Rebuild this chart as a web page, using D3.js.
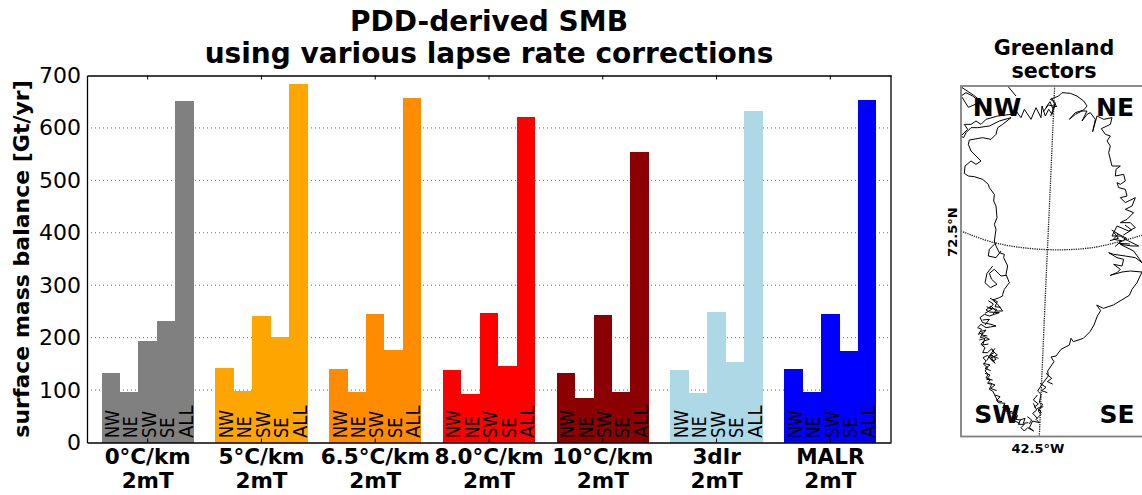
<!DOCTYPE html>
<html>
<head>
<meta charset="utf-8">
<script src="https://cdn.jsdelivr.net/npm/d3@7/dist/d3.min.js"></script>
<style>
  html, body { margin: 0; padding: 0; background: #fff; overflow: hidden; }
  svg text { font-family: "DejaVu Sans", sans-serif; fill: #000; }
</style>
</head>
<body>
<div id="chart"></div>
<script>
// lapse rate groups and the sectors inside each
const groups = ['0°C/km', '5°C/km', '6.5°C/km', '8.0°C/km', '10°C/km', '3dlr', 'MALR'];
const groupSub = '2mT';
const sectors = ['NW', 'NE', 'SW', 'SE', 'ALL'];
const groupColors = ['#808080', '#ffa500', '#ff8c00', '#ff0000', '#8b0000', '#add8e6', '#0000ff'];

const smb0 = [132, 97, 193, 232, 652];
const smb5 = [143, 99, 242, 201, 683];
const smb65 = [141, 96, 246, 176, 657];
const smb80 = [138, 92, 247, 145, 620];
const smb10 = [132, 84, 243, 96, 555];
const smb3dlr = [139, 94, 248, 154, 633];
const smbMalr = [141, 96, 245, 174, 654];
const smbAll = [smb0, smb5, smb65, smb80, smb10, smb3dlr, smbMalr];
const yTicks = [0, 100, 200, 300, 400, 500, 600, 700];

// coastline, in map units (3 units = 1 px)
const coastMain = [[253,1203],[243,1193],[253,1183],[235,1183],[241,1170],[228,1168],[233,1156],[213,1143],[205,1150],[210,1135],[188,1133],[195,1120],[175,1118],[168,1103],[158,1083],[148,1078],[155,1063],[143,1060],[151,1048],[138,1043],[145,1033],[135,1023],[143,1013],[131,1003],[138,993],[129,983],[143,976],[158,993],[168,988],[153,973],[163,968],[155,956],[143,968],[128,968],[135,953],[123,943],[131,933],[148,928],[133,920],[121,923],[128,908],[115,913],[125,898],[113,893],[123,883],[138,893],[168,888],[153,883],[128,878],[120,863],[133,853],[148,858],[178,848],[148,846],[138,840],[153,828],[168,843],[188,843],[173,823],[158,810],[178,803],[188,798],[188,793],[193,778],[208,758],[198,733],[203,708],[191,683],[193,673],[178,668],[168,648],[163,633],[168,598],[163,583],[171,563],[168,528],[161,513],[163,493],[148,473],[145,463],[128,448],[103,440],[85,438],[73,430],[75,408],[93,393],[108,403],[123,393],[108,378],[93,363],[85,343],[88,330],[128,323],[153,328],[168,313],[173,293],[188,283],[213,263],[178,273],[148,288],[113,293],[93,293],[78,308],[71,323],[63,318],[83,298],[73,283],[93,283],[108,273],[123,283],[138,268],[173,258],[213,253],[228,243],[243,263],[253,238],[273,268],[288,233],[303,263],[306,228],[316,258],[326,238],[336,253],[346,218],[331,208],[356,198],[366,188],[391,190],[411,198],[431,213],[441,228],[431,240],[406,248],[388,268],[406,253],[426,243],[441,243],[426,273],[441,253],[451,248],[466,268],[458,305],[471,258],[491,268],[516,263],[511,283],[484,296],[496,313],[511,318],[501,333],[511,348],[506,368],[516,408],[541,408],[528,418],[526,438],[551,433],[556,453],[541,463],[531,458],[536,473],[556,478],[561,498],[541,503],[556,518],[586,503],[576,528],[556,538],[581,548],[561,568],[541,578],[571,578],[586,593],[566,603],[531,588],[516,618],[541,618],[566,633],[596,648],[576,648],[541,643],[581,663],[606,698],[586,683],[556,678],[521,673],[506,668],[531,683],[551,688],[546,708],[521,703],[541,718],[531,728],[511,736],[546,726],[571,723],[606,726],[591,758],[576,778],[568,796],[545,810],[520,825],[490,835],[470,825],[482,842],[472,858],[462,885],[450,905],[430,925],[400,935],[393,925],[388,945],[363,958],[348,978],[333,981],[342,995],[333,1008],[323,1023],[325,1038],[308,1060],[293,1083],[303,1093],[298,1118],[308,1123],[295,1143],[303,1153],[288,1168],[298,1178],[278,1173],[268,1193],[281,1203],[263,1193],[253,1203]];
const coastLoop = [[168,638],[148,658],[145,678],[168,683],[183,663]];
const coastDisko = [[158,708],[141,730],[135,758],[151,773],[171,763],[155,748],[148,730],[163,718],[183,738],[198,736]];
const coastEllesmere = [[65,200],[85,232],[125,215],[100,195],[65,172]];
const coastEllesmere2 = [[63,198],[78,188],[98,198],[113,210]];
const coastNorth = [[203,168],[228,198]];
// short fjord arms, mostly along the south west and east coasts
const fjordsSW = [[[145,812],[160,822],[150,835],[170,838],[160,852]],[[150,805],[172,815],[165,830],[182,832]],[[135,850],[155,838],[140,830]],[[128,870],[148,868],[135,885]],[[120,905],[138,900],[125,915],[142,918]],[[118,930],[135,925],[128,945],[145,942]],[[155,960],[172,975],[150,985],[165,1000],[150,975],[140,992]],[[165,955],[150,975],[175,985]],[[130,1000],[150,1005],[135,1015],[152,1022]],[[135,1030],[150,1035],[140,1048],[158,1050]],[[148,1058],[165,1065],[152,1075],[170,1082]],[[165,1095],[180,1100],[170,1112],[186,1115]],[[190,1125],[205,1130],[195,1142],[215,1150]]];
const fjordsS = [[[215,1148],[230,1160],[222,1172],[240,1180]],[[240,1170],[255,1165],[250,1180],[265,1178]],[[262,1160],[275,1170],[268,1182]],[[280,1120],[290,1140],[278,1150],[292,1165]],[[292,1095],[280,1110],[295,1122],[282,1132]],[[300,1060],[318,1072],[305,1082],[322,1088]],[[318,1030],[335,1045],[322,1055],[338,1062]],[[305,1148],[292,1135],[310,1130]]];
const fjordsNE = [[[318,232],[330,215],[340,240],[345,222],[332,258]],[[310,245],[325,225],[350,230],[335,205]],[[515,600],[535,612],[520,628],[545,632],[525,650]],[[530,610],[560,625],[535,640],[570,642]],[[510,632],[535,625],[520,605]],[[555,585],[575,600],[550,615]]];
const meridian = [[344,168],[331,468],[316,798],[298,1218]];
const parallel = [[63,603],[163,638],[303,658],[456,653],[606,616]];

const width = 1142, height = 495;
const margin = { top: 75.5, right: 251, bottom: 52.5, left: 87 };
const labelLength = { NW: 28, NE: 21.5, SW: 27, SE: 20.5, ALL: 32.5 };

const svg = d3.select('#chart').append('svg')
  .attr('width', width).attr('height', height)
  .style('display', 'block');

const x = d3.scaleBand()
  .domain(groups)
  .range([margin.left, width - margin.right])
  .paddingInner(0.19)
  .paddingOuter(0.128);
const xBar = d3.scaleBand()
  .domain(sectors)
  .range([0, x.bandwidth()]);
const y = d3.scaleLinear()
  .domain([0, 700])
  .range([height - margin.bottom, margin.top]);

// grid goes under the bars
svg.append('g')
  .selectAll('line')
  .data(yTicks.slice(1, -1))
  .enter()
  .append('line')
  .attr('x1', margin.left).attr('x2', width - margin.right)
  .attr('y1', d => y(d)).attr('y2', d => y(d))
  .attr('stroke', '#666').attr('stroke-width', 1)
  .attr('stroke-dasharray', '1,3');

const group = svg.append('g')
  .selectAll('g')
  .data(groups)
  .enter()
  .append('g')
  .attr('transform', d => `translate(${x(d)},0)`);

group.selectAll('rect')
  .data((d, i) => sectors.map((s, j) => ({ s, v: smbAll[i][j], c: groupColors[i] })))
  .enter()
  .append('rect')
  .attr('x', d => xBar(d.s))
  .attr('y', d => y(d.v))
  .attr('width', xBar.bandwidth())
  .attr('height', d => y(0) - y(d.v))
  .attr('fill', d => d.c)
  .attr('shape-rendering', 'crispEdges');

group.selectAll('text')
  .data(sectors)
  .enter()
  .append('text')
  .attr('transform', d => `translate(${xBar(d) + xBar.bandwidth() - 1},${y(0) - 4.5}) rotate(-90)`)
  .attr('font-size', 20)
  .attr('textLength', d => labelLength[d])
  .attr('lengthAdjust', 'spacingAndGlyphs')
  .text(d => d);

// axes
const yAxis = d3.axisLeft(y).tickValues(yTicks).tickSize(0).tickPadding(6);
const gy = svg.append('g')
  .attr('transform', `translate(${margin.left},0)`)
  .call(yAxis);
gy.selectAll('text').attr('font-size', 22).style('font-family', '"DejaVu Sans"');
gy.select('.domain').attr('stroke', '#000').attr('stroke-width', 1.3);

const xAxis = d3.axisBottom(x).tickSizeInner(-4).tickSizeOuter(0).tickPadding(6.2);
const gx = svg.append('g')
  .attr('transform', `translate(0,${height - margin.bottom})`)
  .call(xAxis);
gx.select('.domain').attr('stroke', '#000').attr('stroke-width', 1.3);
gx.selectAll('line').attr('stroke', '#000');
gx.selectAll('text')
  .attr('font-size', 21.5).attr('font-weight', 'bold')
  .style('font-family', '"DejaVu Sans"')
  .each(function () {
    d3.select(this).append('tspan')
      .attr('x', 0).attr('dy', 24).text(groupSub);
  });

const gxTop = svg.append('g')
  .attr('transform', `translate(0,${margin.top})`)
  .call(d3.axisTop(x).tickSizeInner(-4).tickSizeOuter(0).tickFormat(''));
gxTop.select('.domain').attr('stroke', '#000').attr('stroke-width', 1.3);
gxTop.selectAll('line').attr('stroke', '#000');

svg.append('line')
  .attr('x1', width - margin.right).attr('x2', width - margin.right)
  .attr('y1', margin.top).attr('y2', height - margin.bottom)
  .attr('stroke', '#000').attr('stroke-width', 1.3);

svg.append('text')
  .attr('transform', 'translate(29,259) rotate(-90)')
  .attr('text-anchor', 'middle')
  .attr('font-size', 22).attr('font-weight', 'bold')
  .text('surface mass balance [Gt/yr]');

const title = svg.append('text')
  .attr('text-anchor', 'middle')
  .attr('font-size', 28).attr('font-weight', 'bold');
title.append('tspan').attr('x', 489).attr('y', 31).text('PDD-derived SMB');
title.append('tspan').attr('x', 489).attr('y', 63).text('using various lapse rate corrections');

// map panel
const mapLeft = 961, mapTop = 86, mapBottom = 436.5;
const mapX = d3.scaleLinear().domain([0, 606]).range([940, 1142]);
const mapY = d3.scaleLinear().domain([0, 1320]).range([30, 470]);
const mapLine = d3.line().x(d => mapX(d[0])).y(d => mapY(d[1]));

const defs = svg.append('defs');
defs.append('clipPath').attr('id', 'map-clip')
  .append('rect')
  .attr('x', mapLeft).attr('y', mapTop)
  .attr('width', width - mapLeft + 10).attr('height', mapBottom - mapTop);

const map = svg.append('g').attr('clip-path', 'url(#map-clip)');

map.selectAll('path.coast')
  .data([coastMain, coastLoop, coastDisko, coastEllesmere, coastEllesmere2, coastNorth, ...fjordsSW, ...fjordsS, ...fjordsNE])
  .enter()
  .append('path')
  .attr('class', 'coast')
  .attr('d', mapLine)
  .attr('fill', 'none')
  .attr('stroke', '#000').attr('stroke-width', 1);

map.selectAll('path.grat')
  .data([meridian, parallel])
  .enter()
  .append('path')
  .attr('class', 'grat')
  .attr('d', d3.line().x(d => mapX(d[0])).y(d => mapY(d[1])).curve(d3.curveCatmullRom))
  .attr('fill', 'none')
  .attr('stroke', '#222').attr('stroke-width', 1.3)
  .attr('stroke-dasharray', '1.3,1');

svg.append('rect')
  .attr('x', mapLeft).attr('y', mapTop)
  .attr('width', width - mapLeft + 10).attr('height', mapBottom - mapTop)
  .attr('fill', 'none')
  .attr('stroke', '#808080').attr('stroke-width', 1.8);

const mapLabels = [['NW', 997, 116], ['NE', 1115, 116], ['SW', 997, 423], ['SE', 1117, 423]];
svg.selectAll('text.sector')
  .data(mapLabels)
  .enter()
  .append('text')
  .attr('class', 'sector')
  .attr('x', d => d[1]).attr('y', d => d[2])
  .attr('text-anchor', 'middle')
  .attr('font-size', 25).attr('font-weight', 'bold')
  .text(d => d[0]);

const mapTitle = svg.append('text')
  .attr('text-anchor', 'middle')
  .attr('font-size', 20.7).attr('font-weight', 'bold');
mapTitle.append('tspan').attr('x', 1054).attr('y', 55).text('Greenland');
mapTitle.append('tspan').attr('x', 1054).attr('y', 78).text('sectors');

svg.append('text')
  .attr('transform', 'translate(957,232) rotate(-90)')
  .attr('text-anchor', 'middle')
  .attr('font-size', 13).attr('font-weight', 'bold')
  .text('72.5°N');
svg.append('text')
  .attr('x', 1038).attr('y', 453)
  .attr('text-anchor', 'middle')
  .attr('font-size', 13).attr('font-weight', 'bold')
  .text('42.5°W');
</script>
</body>
</html>
